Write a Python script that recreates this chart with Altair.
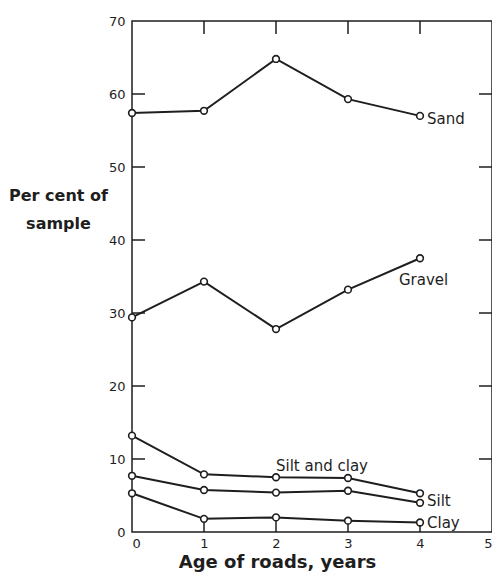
import altair as alt
import pandas as pd

years = [0, 1, 2, 3, 4]
sand = [57.4, 57.7, 64.8, 59.3, 57.0]
gravel = [29.4, 34.3, 27.8, 33.2, 37.5]
silt_and_clay = [13.2, 7.9, 7.5, 7.4, 5.3]
silt = [7.7, 5.75, 5.4, 5.65, 4.0]
clay = [5.3, 1.8, 2.0, 1.55, 1.3]

x_tick_values = [0, 1, 2, 3, 4, 5]
y_tick_values = [0, 10, 20, 30, 40, 50, 60, 70]
inner_x_ticks = [1, 2, 3, 4]
inner_y_ticks = [10, 20, 30, 40, 50, 60]

series = {
    "Sand": sand,
    "Gravel": gravel,
    "Silt and clay": silt_and_clay,
    "Silt": silt,
    "Clay": clay,
}
rows = []
for name, vals in series.items():
    for yr, v in zip(years, vals):
        rows.append({"series": name, "year": yr, "pct": v})
df = pd.DataFrame(rows)

W, H = 360, 511
FONT = "DejaVu Sans"
INK = "#1e1e1e"

xscale = alt.Scale(domain=[0, 5], nice=False, zero=False)
yscale = alt.Scale(domain=[0, 70], nice=False)

x_enc = alt.X(
    "year:Q",
    scale=xscale,
    axis=alt.Axis(
        values=x_tick_values,
        format="d",
        ticks=False,
        domain=False,
        grid=False,
        labelPadding=5,
        labelFontSize=13,
        labelFont=FONT,
        labelColor=INK,
        title="Age of roads,  years",
        titleFont=FONT,
        titleFontSize=18,
        titleFontWeight="bold",
        titleColor=INK,
        titleX=145,
        titleY=30,
        titleAlign="center",
        titleBaseline="middle",
    ),
)
y_enc = alt.Y(
    "pct:Q",
    scale=yscale,
    axis=alt.Axis(
        values=y_tick_values,
        format="d",
        ticks=False,
        domain=False,
        grid=False,
        labelPadding=7,
        labelFontSize=13,
        labelFont=FONT,
        labelColor=INK,
        title=["Per cent of", "sample"],
        titleFont=FONT,
        titleFontSize=16,
        titleFontWeight="bold",
        titleColor=INK,
        titleAngle=0,
        titleAlign="center",
        titleBaseline="middle",
        titleX=-74,
        titleY=174,
        titleLineHeight=28,
    ),
)

base = alt.Chart(df)

lines = base.mark_line(color=INK, strokeWidth=2).encode(
    x=x_enc, y=y_enc, detail="series:N", order="year:Q"
)
points = base.mark_point(
    shape="circle", filled=True, fill="white", stroke=INK, strokeWidth=1.6,
    size=45, opacity=1
).encode(x=alt.X("year:Q", scale=xscale), y=alt.Y("pct:Q", scale=yscale), detail="series:N")


def label(name, yr, text, dx, dy, align):
    return (
        alt.Chart(df)
        .transform_filter((alt.datum.series == name) & (alt.datum.year == yr))
        .mark_text(text=text, dx=dx, dy=dy, align=align, baseline="middle",
                   font=FONT, fontSize=15, color=INK)
        .encode(x=alt.X("year:Q", scale=xscale), y=alt.Y("pct:Q", scale=yscale))
    )


labels = [
    label("Sand", 4, "Sand", 7, 3, "left"),
    label("Gravel", 4, "Gravel", -21, 22, "left"),
    label("Silt and clay", 2, "Silt and clay", 0, -11, "left"),
    label("Silt", 4, "Silt", 7, -2, "left"),
    label("Clay", 4, "Clay", 7, 0, "left"),
]

xt = pd.DataFrame({"t": inner_x_ticks})
yt = pd.DataFrame({"t": inner_y_ticks})

top_ticks = alt.Chart(xt).mark_rule(color=INK, strokeWidth=1.5).encode(
    x=alt.X("t:Q", scale=xscale), y=alt.value(0), y2=alt.value(13)
)
bottom_ticks = alt.Chart(xt).mark_rule(color=INK, strokeWidth=1.5).encode(
    x=alt.X("t:Q", scale=xscale), y=alt.value(H - 13), y2=alt.value(H)
)
left_ticks = alt.Chart(yt).mark_rule(color=INK, strokeWidth=1.5).encode(
    y=alt.Y("t:Q", scale=yscale), x=alt.value(0), x2=alt.value(13)
)
right_ticks = alt.Chart(yt).mark_rule(color=INK, strokeWidth=1.5).encode(
    y=alt.Y("t:Q", scale=yscale), x=alt.value(W - 13), x2=alt.value(W)
)

chart = (
    alt.layer(lines, top_ticks, bottom_ticks, left_ticks, right_ticks, points, *labels)
    .properties(
        width=W,
        height=H,
        autosize=alt.AutoSizeParams(type="none"),
        padding={"left": 124, "top": 13, "right": 0, "bottom": 40},
        background="white",
    )
    .configure_view(stroke=INK, strokeWidth=1.5)
)

chart.save("out.html", embed_options={"renderer": "svg", "actions": False})
